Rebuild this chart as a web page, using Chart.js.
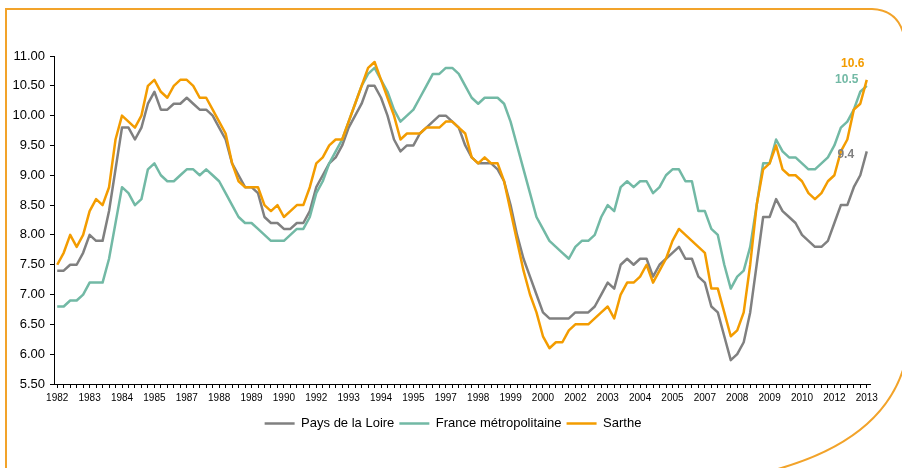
<!DOCTYPE html>
<html>
<head>
<meta charset="utf-8">
<script src="https://cdn.jsdelivr.net/npm/chart.js@4.4.1/dist/chart.umd.min.js"></script>
<style>
  html, body { margin: 0; padding: 0; background: #fff; }
  #wrap { width: 902px; height: 468px; position: relative; }
</style>
</head>
<body>
<div id="wrap"><canvas id="chart"></canvas></div>
<script>
// quarterly series, 1982 T1 .. 2013 T2
const firstYear = 1982;
const tickLabels = ['1982', '1983', '1984', '1985', '1987', '1988', '1989', '1990', '1992', '1993', '1994', '1995', '1997',
    '1998', '1999', '2000', '2002', '2003', '2004', '2005', '2007', '2008', '2009', '2010', '2012', '2013'];

const paysDeLaLoire = [
    7.4, 7.4, 7.5, 7.5, 7.7, 8.0, 7.9, 7.9, 8.4, 9.1, 9.8, 9.8, 9.6, 9.8, 10.2, 10.4, 10.1, 10.1,
    10.2, 10.2, 10.3, 10.2, 10.1, 10.1, 10.0, 9.8, 9.6, 9.2, 9.0, 8.8, 8.8, 8.7, 8.3, 8.2, 8.2, 8.1,
    8.1, 8.2, 8.2, 8.4, 8.8, 9.0, 9.2, 9.3, 9.5, 9.8, 10.0, 10.2, 10.5, 10.5, 10.3, 10.0, 9.6, 9.4,
    9.5, 9.5, 9.7, 9.8, 9.9, 10.0, 10.0, 9.9, 9.8, 9.5, 9.3, 9.2, 9.2, 9.2, 9.1, 8.9, 8.5, 8.0, 7.6,
    7.3, 7.0, 6.7, 6.6, 6.6, 6.6, 6.6, 6.7, 6.7, 6.7, 6.8, 7.0, 7.2, 7.1, 7.5, 7.6, 7.5, 7.6,
    7.6, 7.3, 7.5, 7.6, 7.7, 7.8, 7.6, 7.6, 7.3, 7.2, 6.8, 6.7, 6.3, 5.9, 6.0, 6.2, 6.7, 7.5,
    8.3, 8.3, 8.6, 8.4, 8.3, 8.2, 8.0, 7.9, 7.8, 7.8, 7.9, 8.2, 8.5, 8.5, 8.8, 9.0, 9.4
];
const franceMetro = [
    6.8, 6.8, 6.9, 6.9, 7.0, 7.2, 7.2, 7.2, 7.6, 8.2, 8.8, 8.7, 8.5, 8.6, 9.1, 9.2, 9.0, 8.9,
    8.9, 9.0, 9.1, 9.1, 9.0, 9.1, 9.0, 8.9, 8.7, 8.5, 8.3, 8.2, 8.2, 8.1, 8.0, 7.9, 7.9, 7.9,
    8.0, 8.1, 8.1, 8.3, 8.7, 8.9, 9.2, 9.4, 9.6, 9.9, 10.2, 10.5, 10.7, 10.8, 10.6, 10.4, 10.1, 9.9,
    10.0, 10.1, 10.3, 10.5, 10.7, 10.7, 10.8, 10.8, 10.7, 10.5, 10.3, 10.2, 10.3, 10.3, 10.3, 10.2, 9.9, 9.5, 9.1,
    8.7, 8.3, 8.1, 7.9, 7.8, 7.7, 7.6, 7.8, 7.9, 7.9, 8.0, 8.3, 8.5, 8.4, 8.8, 8.9, 8.8, 8.9,
    8.9, 8.7, 8.8, 9.0, 9.1, 9.1, 8.9, 8.9, 8.4, 8.4, 8.1, 8.0, 7.5, 7.1, 7.3, 7.4, 7.8, 8.5,
    9.2, 9.2, 9.6, 9.4, 9.3, 9.3, 9.2, 9.1, 9.1, 9.2, 9.3, 9.5, 9.8, 9.9, 10.1, 10.4, 10.5
];
const sarthe = [
    7.5, 7.7, 8.0, 7.8, 8.0, 8.4, 8.6, 8.5, 8.8, 9.6, 10.0, 9.9, 9.8, 10.0, 10.5, 10.6, 10.4, 10.3,
    10.5, 10.6, 10.6, 10.5, 10.3, 10.3, 10.1, 9.9, 9.7, 9.2, 8.9, 8.8, 8.8, 8.8, 8.5, 8.4, 8.5, 8.3,
    8.4, 8.5, 8.5, 8.8, 9.2, 9.3, 9.5, 9.6, 9.6, 9.9, 10.2, 10.5, 10.8, 10.9, 10.6, 10.3, 10.0, 9.6,
    9.7, 9.7, 9.7, 9.8, 9.8, 9.8, 9.9, 9.9, 9.8, 9.7, 9.3, 9.2, 9.3, 9.2, 9.2, 8.9, 8.4, 7.9, 7.4,
    7.0, 6.7, 6.3, 6.1, 6.2, 6.2, 6.4, 6.5, 6.5, 6.5, 6.6, 6.7, 6.8, 6.6, 7.0, 7.2, 7.2, 7.3,
    7.5, 7.2, 7.4, 7.6, 7.9, 8.1, 8.0, 7.9, 7.8, 7.7, 7.1, 7.1, 6.7, 6.3, 6.4, 6.7, 7.5, 8.5,
    9.1, 9.2, 9.5, 9.1, 9.0, 9.0, 8.9, 8.7, 8.6, 8.7, 8.9, 9.0, 9.4, 9.6, 10.1, 10.2, 10.6
];

const quarters = [];
for (let i = 0; i < paysDeLaLoire.length; i++) {
    quarters.push((firstYear + Math.floor(i / 4)) + ' T' + (i % 4 + 1));
}

const GREY = '#808080';
const TEAL = '#72b9a5';
const ORANGE = '#f39c00';

// orange frame of the slide
const framePlugin = {
    id: 'frame',
    afterLayout(chart) {
        // legend sits a little right of the centre in the original
        chart.legend.left += 18;
        chart.legend.right += 18;
    },
    beforeDraw(chart) {
        const ctx = chart.ctx;
        ctx.save();
        ctx.strokeStyle = '#f2a32a';
        ctx.lineWidth = 2;
        ctx.beginPath();
        ctx.moveTo(6, 468);
        ctx.lineTo(6, 9);
        ctx.lineTo(872, 9);
        ctx.quadraticCurveTo(896, 10, 903, 32);
        ctx.stroke();
        ctx.beginPath();
        ctx.moveTo(778, 469);
        ctx.quadraticCurveTo(880, 440, 903, 370);
        ctx.stroke();
        ctx.restore();
    }
};

// last values written next to the line ends
const endLabels = [
    { ds: 2, dx: -14, dy: -16, color: ORANGE },
    { ds: 1, dx: -20, dy: -6, color: TEAL },
    { ds: 0, dx: -21, dy: 3, color: GREY }
];
const endLabelPlugin = {
    id: 'endLabels',
    afterDatasetsDraw(chart) {
        const ctx = chart.ctx;
        const x = chart.scales.x, y = chart.scales.y;
        ctx.save();
        ctx.font = 'bold 12px "Liberation Sans", Arial, sans-serif';
        ctx.textAlign = 'center';
        ctx.textBaseline = 'middle';
        endLabels.forEach(function (l) {
            const data = chart.data.datasets[l.ds].data;
            const last = data.length - 1;
            ctx.fillStyle = l.color;
            ctx.fillText(data[last].toFixed(1), x.getPixelForValue(last) + l.dx, y.getPixelForValue(data[last]) + l.dy);
        });
        ctx.restore();
    }
};

function series(label, data, color, order) {
    return {
        label: label,
        data: data,
        borderColor: color,
        backgroundColor: color,
        pointBorderColor: color,
        pointBackgroundColor: color,
        pointBorderWidth: 2.5,
        order: order
    };
}

const ctx = document.getElementById('chart').getContext('2d');
new Chart(ctx, {
    type: 'line',
    data: {
        labels: quarters,
        datasets: [
            series('Pays de la Loire', paysDeLaLoire, GREY, 2),
            series('France métropolitaine', franceMetro, TEAL, 1),
            series('Sarthe', sarthe, ORANGE, 0)
        ]
    },
    options: {
        responsive: true,
        maintainAspectRatio: false,
        animation: false,
        layout: { padding: { top: 56, left: 0, right: 32, bottom: 28 } },
        elements: {
            line: { borderWidth: 2.5, tension: 0, borderJoinStyle: 'round' },
            point: { radius: 0, hoverRadius: 0 }
        },
        scales: {
            x: {
                offset: true,
                afterFit: function (scale) { scale.height = 28; },
                border: { display: true, color: '#000', width: 1 },
                grid: { drawOnChartArea: false, drawTicks: true, tickLength: 4, color: '#000', offset: false },
                ticks: {
                    autoSkip: false,
                    maxRotation: 0,
                    padding: 4,
                    color: '#000',
                    font: { family: '"Liberation Sans", Arial, sans-serif', size: 10 },
                    callback: function (val, index) {
                        return index % 5 === 0 ? tickLabels[index / 5] : '';
                    }
                }
            },
            y: {
                min: 5.5,
                max: 11,
                afterFit: function (scale) { scale.width = 54; },
                border: { display: true, color: '#000', width: 1 },
                grid: { drawOnChartArea: false, drawTicks: true, tickLength: 4, color: '#000' },
                ticks: {
                    stepSize: 0.5,
                    padding: 5,
                    color: '#000',
                    font: { family: '"Liberation Sans", Arial, sans-serif', size: 13 },
                    callback: function (val) { return val.toFixed(2); }
                }
            }
        },
        plugins: {
            tooltip: { enabled: false },
            legend: {
                position: 'bottom',
                labels: {
                    usePointStyle: true,
                    pointStyle: 'line',
                    pointStyleWidth: 30,
                    padding: 5,
                    color: '#000',
                    font: { family: '"Liberation Sans", Arial, sans-serif', size: 13 },
                    sort: function (a, b) { return a.datasetIndex - b.datasetIndex; }
                }
            }
        }
    },
    plugins: [framePlugin, endLabelPlugin]
});
</script>
</body>
</html>
